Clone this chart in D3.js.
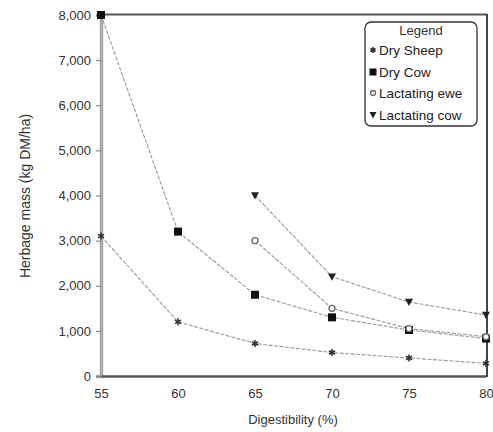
<!DOCTYPE html>
<html><head><meta charset="utf-8">
<script src="https://cdn.jsdelivr.net/npm/d3@7"></script>
<style>body{margin:0;background:#fff}svg{display:block;font-family:"Liberation Sans",Arial,sans-serif}</style>
</head><body><svg id="c" width="493" height="432"></svg>
<script>
const digestibility = [55, 60, 65, 70, 75, 80];
const drySheep = [3100, 1200, 720, 520, 400, 280];
const dryCow = [8000, 3200, 1800, 1300, 1020, 830];
const lactatingEwe = [null, null, 3000, 1500, 1050, 870];
const lactatingCow = [null, null, 4000, 2200, 1640, 1350];
const yTicks = [0, 1000, 2000, 3000, 4000, 5000, 6000, 7000, 8000];
const xTicks = [55, 60, 65, 70, 75, 80];
const seriesNames = ["Dry Sheep", "Dry Cow", "Lactating ewe", "Lactating cow"];
const seriesValues = [drySheep, dryCow, lactatingEwe, lactatingCow];
const seriesMarkers = ["star", "square", "circle", "triangle"];

const svg = d3.select("#c");
const x = d3.scaleLinear().domain([55, 80]).range([101, 486]);
const y = d3.scaleLinear().domain([0, 8000]).range([376, 15]);

// frame top & right
svg.append("line").attr("x1", x(55)).attr("x2", 487).attr("y1", 14.5).attr("y2", 14.5).attr("stroke", "#555").attr("stroke-width", 2);
svg.append("line").attr("x1", 487).attr("x2", 487).attr("y1", 14).attr("y2", 377).attr("stroke", "#444").attr("stroke-width", 2);

// y axis
const yAxis = d3.axisLeft(y).tickValues(yTicks).tickSize(5).tickPadding(5).tickFormat(d3.format(","));
const gy = svg.append("g").attr("transform", `translate(${x(55)},0)`).call(yAxis);
gy.select(".domain").attr("stroke", "#aaa").attr("stroke-width", 3.5);
gy.selectAll(".tick line").attr("stroke", "#777");
gy.selectAll("text").attr("font-size", 13).attr("fill", "#333").attr("font-family", "Liberation Sans, Arial");

// x axis
const xAxis = d3.axisBottom(x).tickValues(xTicks).tickSize(0).tickPadding(13);
const gx = svg.append("g").attr("transform", `translate(0,${y(0)})`).call(xAxis);
gx.select(".domain").attr("stroke", "#555").attr("stroke-width", 2.5);
gx.selectAll("text").attr("font-size", 13).attr("fill", "#333").attr("font-family", "Liberation Sans, Arial");

// titles
svg.append("text").attr("x", 293).attr("y", 424).attr("text-anchor", "middle").attr("font-size", 13).attr("fill", "#333").text("Digestibility (%)");
svg.append("text").attr("transform", "translate(30,196) rotate(-90)").attr("text-anchor", "middle").attr("font-size", 14).attr("fill", "#333").text("Herbage mass (kg DM/ha)");

// lines
const line = d3.line().defined(d => d.v != null).x(d => x(d.x)).y(d => y(d.v));
seriesValues.forEach((vals, i) => {
  const pts = digestibility.map((dx, j) => ({x: dx, v: vals[j]}));
  svg.append("path").datum(pts).attr("d", line).attr("fill", "none").attr("stroke", "#999").attr("stroke-width", 1.1).attr("stroke-dasharray", "4,1.5");
});

function marker(g, type, cx, cy, s) {
  if (type === "square") {
    g.append("rect").attr("x", cx - s/2).attr("y", cy - s/2).attr("width", s).attr("height", s).attr("fill", "#111");
  } else if (type === "circle") {
    g.append("circle").attr("cx", cx).attr("cy", cy).attr("r", s/2 - 0.5).attr("fill", "#fff").attr("stroke", "#666").attr("stroke-width", 1.3);
  } else if (type === "triangle") {
    g.append("path").attr("d", `M${cx - s/2},${cy - s/2.4}L${cx + s/2},${cy - s/2.4}L${cx},${cy + s/2}Z`).attr("fill", "#222");
  } else {
    const r = s/2;
    let d = "";
    for (let k = 0; k < 3; k++) {
      const a = Math.PI / 3 * k + Math.PI / 6;
      d += `M${cx - r*Math.cos(a)},${cy - r*Math.sin(a)}L${cx + r*Math.cos(a)},${cy + r*Math.sin(a)}`;
    }
    g.append("path").attr("d", d).attr("stroke", "#333").attr("stroke-width", 1.6);
  }
}
const mg = svg.append("g");
const sizes = [7, 8, 7, 8];
seriesValues.forEach((vals, i) => {
  digestibility.forEach((dx, j) => {
    if (vals[j] != null) marker(mg, seriesMarkers[i], x(dx), y(vals[j]), sizes[i]);
  });
});

// legend
const lg = svg.append("g");
lg.append("rect").attr("x", 365).attr("y", 22).attr("width", 112).attr("height", 104).attr("rx", 6).attr("fill", "#fff").attr("stroke", "#333").attr("stroke-width", 1.3);
lg.append("text").attr("x", 421).attr("y", 35).attr("text-anchor", "middle").attr("font-size", 13).attr("fill", "#333").text("Legend");
const legY = [50, 72, 93, 115];
seriesNames.forEach((n, i) => {
  marker(lg, seriesMarkers[i], 373, legY[i], sizes[i] - 1);
  lg.append("text").attr("x", 379).attr("y", legY[i] + 4.5).attr("font-size", 13.5).attr("fill", "#222").text(n);
});
</script></body></html>
